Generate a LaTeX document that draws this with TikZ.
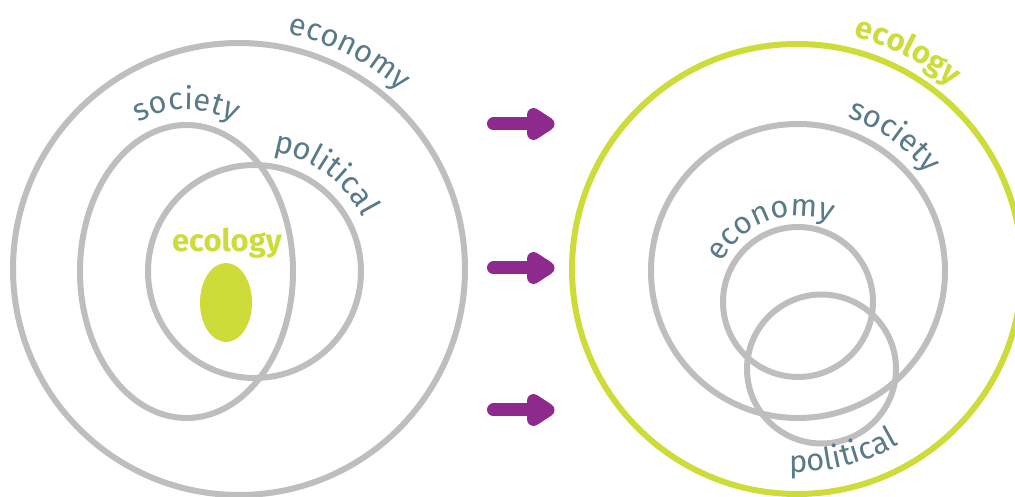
\documentclass[tikz,border=0pt]{standalone}
\usepackage{fontspec}
\setmainfont{Fira Sans}
\usetikzlibrary{decorations.text,shapes.geometric}
\definecolor{ringgrey}{HTML}{BEBEBE}
\definecolor{ecogreen}{HTML}{CDDC39}
\definecolor{labc}{HTML}{587A89}
\definecolor{arrowpurple}{HTML}{8E2A8E}
\newcommand{\labfont}{\fontsize{31}{36}\selectfont}
\newcommand{\ecofont}{\fontsize{31}{36}\selectfont\bfseries}
\begin{document}
\begin{tikzpicture}[x=1pt,y=1pt,
  ring/.style={circle, draw=ringgrey, line width=6pt, inner sep=0pt, outer sep=0pt},
  greenring/.style={circle, draw=ecogreen, line width=6pt, inner sep=0pt, outer sep=0pt},
  curvelabel/.style={decorate, decoration={text along path, text align=center, text color=labc, text={|\labfont|#1}}},
  greenlabel/.style={decorate, decoration={text along path, text align=center, text color=ecogreen, text={|\ecofont|#1}}},
  shaft/.style={draw=arrowpurple, line width=13pt, line cap=round},
  head/.style={draw=arrowpurple, fill=arrowpurple, line width=13pt, line join=round, line cap=round},
]
\useasboundingbox (0,0) rectangle (1015,497);

% ---------- left diagram ----------
\node[ring, minimum size=452pt] (econL) at (239,228) {};
\node[ellipse, draw=ringgrey, line width=6pt, inner sep=0pt, outer sep=0pt,
      minimum width=213pt, minimum height=293pt] (socL) at (186.5,225.5) {};
\node[ring, minimum size=213pt] (polL) at (254.5,225.5) {};
\node[ellipse, fill=ecogreen, inner sep=0pt, minimum width=52pt, minimum height=79pt] (blob) at (226,194.5) {};
\node[anchor=base, text=ecogreen, font=\ecofont, inner sep=0pt] (ecolabL) at (227,245) {ecology};

\path[curvelabel=economy, shift={(econL.center)}] (105:240) arc[start angle=105, end angle=21, radius=240];
\path[curvelabel=society, shift={(socL.center)}] (150:122 and 162) arc[start angle=150, end angle=30, x radius=122, y radius=162];
\path[curvelabel=political, shift={(polL.center)}] (110:121) arc[start angle=110, end angle=-2, radius=121];

% ---------- arrows ----------
\foreach \n/\y in {1/373, 2/229, 3/87} {
  \coordinate (as\n) at (493.5,\y);
  \coordinate (ae\n) at (545,\y);
  \coordinate (ht\n) at (533.5,\y+9.5);
  \coordinate (hb\n) at (533.5,\y-9.5);
  \coordinate (hv\n) at (548,\y);
  \draw[shaft] (as\n) -- (ae\n);
  \draw[head] (ht\n) -- (hv\n) -- (hb\n) -- cycle;
}

% ---------- right diagram ----------
\node[greenring, minimum size=450pt] (ecoR) at (797,228) {};
\node[ring, minimum size=294pt] (socR) at (798,226) {};
\node[ring, minimum size=150pt] (econR) at (798,195) {};
\node[ring, minimum size=149pt] (polR) at (821.5,128) {};

\path[greenlabel=ecology, shift={(ecoR.center)}] (105:239) arc[start angle=105, end angle=21, radius=239];
\path[curvelabel=society, shift={(socR.center)}] (110:161) arc[start angle=110, end angle=-1, radius=161];
\path[curvelabel=economy, shift={(econR.center)}] (180:86) arc[start angle=180, end angle=40, radius=86];
\path[curvelabel=political, shift={(ecoR.center)}] (-130:203) arc[start angle=-130, end angle=-22, radius=203];
\end{tikzpicture}
\end{document}
